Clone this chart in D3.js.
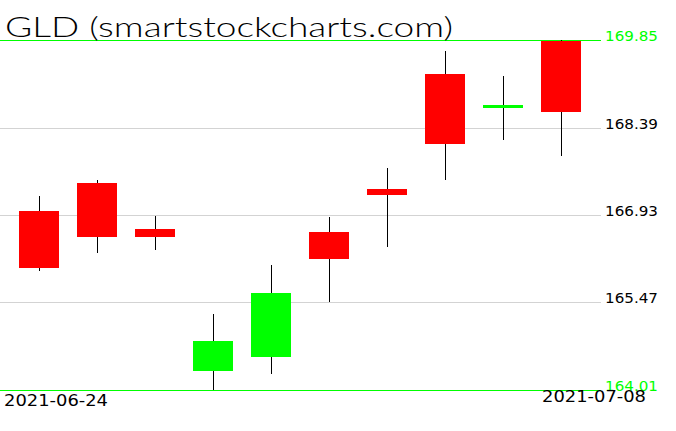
<!DOCTYPE html>
<html>
<head>
<meta charset="utf-8">
<script src="https://cdn.jsdelivr.net/npm/d3@7"></script>
<style>
  html, body { margin: 0; padding: 0; background: #fff; }
  svg { display: block; }
  text { font-family: "DejaVu Sans", sans-serif; }
  text.title { font-family: "Lato", "DejaVu Sans", sans-serif; font-weight: 300; }
</style>
</head>
<body>
<svg id="chart" width="676" height="431"></svg>
<script>
const title = "GLD (smartstockcharts.com)";
const dates = ["2021-06-24","2021-06-25","2021-06-28","2021-06-29","2021-06-30",
               "2021-07-01","2021-07-02","2021-07-06","2021-07-07","2021-07-08"];
const opens  = [167.00, 167.46, 166.69, 164.33, 164.56, 166.65, 167.36, 169.28, 168.71, 169.83];
const highs  = [167.24, 167.52, 166.92, 165.28, 166.10, 166.89, 167.72, 169.67, 169.25, 169.85];
const lows   = [166.00, 166.29, 166.35, 164.01, 164.28, 165.48, 166.39, 167.52, 168.18, 167.91];
const closes = [166.04, 166.57, 166.57, 164.83, 165.63, 166.19, 167.27, 168.11, 168.76, 168.65];
const tickValues = [169.85, 168.39, 166.93, 165.47, 164.01];
const tickLabels = ["169.85", "168.39", "166.93", "165.47", "164.01"];
const dateLabels = ["2021-06-24", "2021-07-08"];

const svg = d3.select("#chart");

const x = d3.scaleBand().domain(dates).range([10, 590]).paddingInner(0.31).paddingOuter(0.155);
const y = d3.scaleLinear().domain([164.01, 169.85]).range([390, 40]);

const data = dates.map((d, i) => ({date: d, o: opens[i], h: highs[i], l: lows[i], c: closes[i]}));

// grid lines
const minV = d3.min(tickValues), maxV = d3.max(tickValues);
svg.append("g").selectAll("line").data(tickValues).join("line")
  .attr("x1", 0).attr("x2", 601)
  .attr("y1", d => Math.round(y(d)) + 0.5)
  .attr("y2", d => Math.round(y(d)) + 0.5)
  .attr("stroke", d => (d === minV || d === maxV) ? "#00ff00" : "#d3d3d3")
  .attr("stroke-width", 1);

// tick labels
svg.append("g").selectAll("text").data(tickValues).join("text")
  .attr("x", 605)
  .attr("y", d => Math.round(y(d)) + 1)
  .attr("font-size", 14)
  .attr("textLength", 53).attr("lengthAdjust", "spacingAndGlyphs")
  .attr("fill", d => (d === minV || d === maxV) ? "#00ff00" : "#000")
  .text((d, i) => tickLabels[i]);

// wicks
svg.append("g").selectAll("line").data(data).join("line")
  .attr("x1", d => Math.floor(x(d.date) + x.bandwidth() / 2) + 0.5)
  .attr("x2", d => Math.floor(x(d.date) + x.bandwidth() / 2) + 0.5)
  .attr("y1", d => Math.round(y(d.h)))
  .attr("y2", d => Math.round(y(d.l)))
  .attr("stroke", "#000").attr("stroke-width", 1);

// bodies
svg.append("g").selectAll("rect").data(data).join("rect")
  .attr("x", d => Math.round(x(d.date)))
  .attr("width", Math.round(x.bandwidth()))
  .attr("y", d => Math.round(y(Math.max(d.o, d.c))))
  .attr("height", d => Math.max(1, Math.round(y(Math.min(d.o, d.c))) - Math.round(y(Math.max(d.o, d.c)))))
  .attr("fill", d => d.c >= d.o ? "#00ff00" : "#ff0000");

// title
svg.append("text").attr("class", "title")
  .attr("x", 5).attr("y", 37)
  .attr("font-size", 28)
  .attr("textLength", 448).attr("lengthAdjust", "spacingAndGlyphs")
  .attr("fill", "#000")
  .text(title);

// date labels
svg.append("text").attr("x", 4).attr("y", 406)
  .attr("font-size", 16).attr("textLength", 104).attr("lengthAdjust", "spacingAndGlyphs")
  .attr("fill", "#000").text(dateLabels[0]);
svg.append("text").attr("x", 542).attr("y", 402)
  .attr("font-size", 16).attr("textLength", 104).attr("lengthAdjust", "spacingAndGlyphs")
  .attr("fill", "#000").text(dateLabels[1]);
</script>
</body>
</html>
